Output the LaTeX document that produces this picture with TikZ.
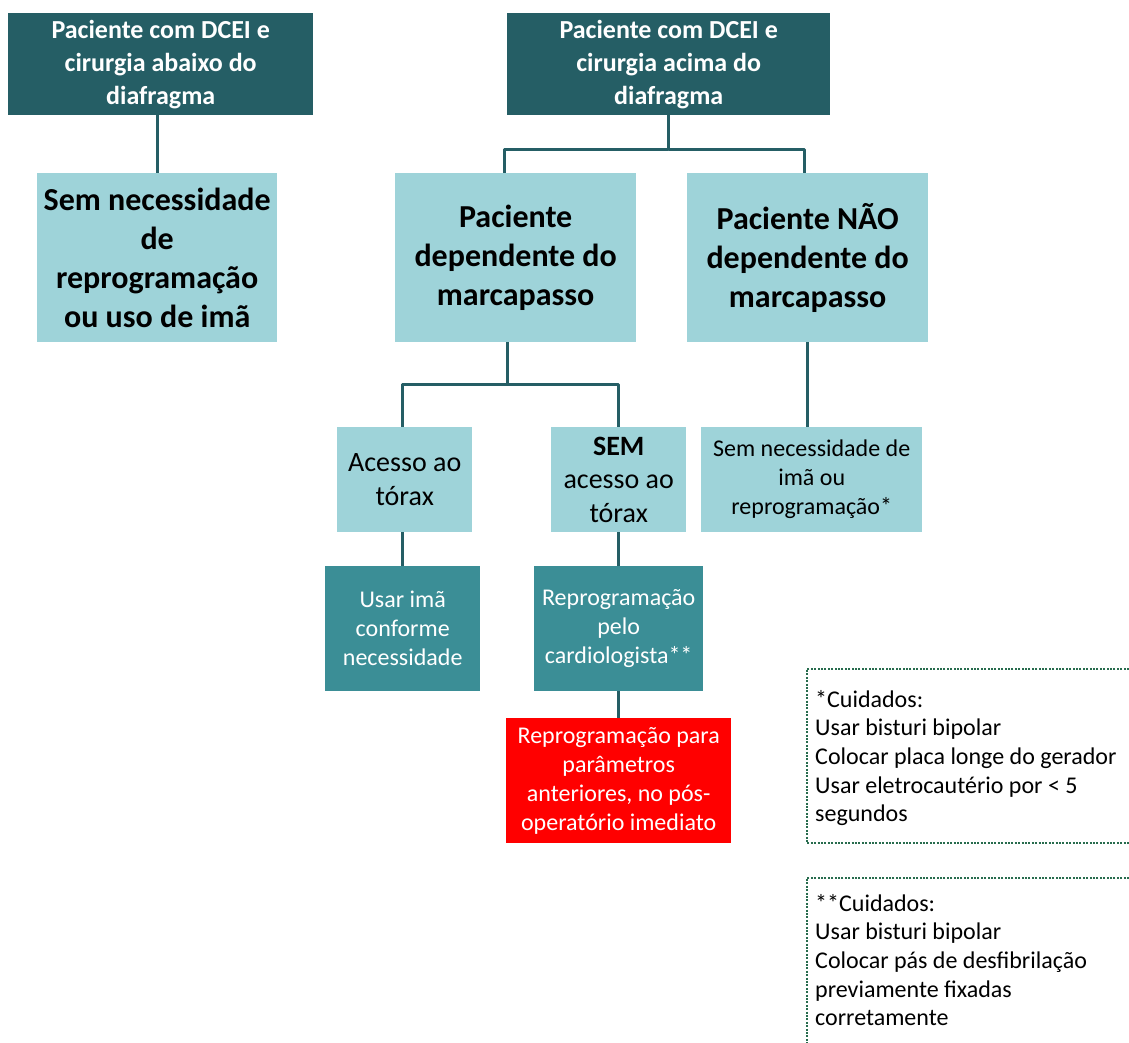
\documentclass[tikz,border=0pt]{standalone}
\usepackage{fontspec}
\setmainfont{Carlito}
\usetikzlibrary{calc}

\definecolor{tealdark}{RGB}{37,94,101}
\definecolor{teallight}{RGB}{158,211,217}
\definecolor{tealmid}{RGB}{59,142,150}
\definecolor{alertred}{RGB}{255,0,0}
\definecolor{notegreen}{RGB}{40,108,78}

\tikzset{
  box/.style={anchor=north west, inner sep=0pt, align=center, rectangle},
  topbox/.style={box, fill=tealdark, text=white,
    font=\fontsize{26}{33}\selectfont\bfseries},
  bigbox/.style={box, fill=teallight, text=black,
    font=\fontsize{32}{39}\selectfont\bfseries},
  midbox/.style={box, fill=teallight, text=black,
    font=\fontsize{28}{33.5}\selectfont},
  smallbox/.style={box, fill=teallight, text=black,
    font=\fontsize{24}{29}\selectfont},
  actbox/.style={box, fill=tealmid, text=white,
    font=\fontsize{24}{29}\selectfont},
  alertbox/.style={box, fill=alertred, text=white,
    font=\fontsize{24}{29}\selectfont},
  notetext/.style={anchor=north west, inner sep=0pt, align=left,
    font=\fontsize{24}{28.6}\selectfont},
  link/.style={draw=tealdark, line width=3pt, line join=round},
  notebox/.style={draw=notegreen, line width=2.2pt, dash pattern=on 2pt off 1.4pt},
}

\begin{document}
\begin{tikzpicture}[x=1pt, y=-1pt]
\useasboundingbox (0,0) rectangle (1129,1043);

% top row: the two starting situations
\node[topbox, minimum width=305pt, minimum height=102pt] (A) at (8,13)
  {Paciente com DCEI e\\cirurgia abaixo do\\diafragma};
\node[topbox, minimum width=323pt, minimum height=102pt] (B) at (507,13)
  {Paciente com DCEI e\\cirurgia acima do\\diafragma};

% second row
\node[bigbox, minimum width=240pt, minimum height=169pt] (C) at (37,173)
  {Sem necessidade\\de\\reprogramação\\ou uso de imã};
\node[bigbox, minimum width=241pt, minimum height=169pt] (D) at (395,173)
  {Paciente\\dependente do\\marcapasso};
\node[bigbox, minimum width=241pt, minimum height=169pt] (E) at (687,173)
  {Paciente NÃO\\dependente do\\marcapasso};

% third row
\node[midbox, minimum width=135pt, minimum height=105pt] (F) at (337,427)
  {Acesso ao\\tórax};
\node[midbox, minimum width=135pt, minimum height=105pt] (G) at (551,427)
  {\textbf{SEM}\\acesso ao\\tórax};
\node[smallbox, minimum width=221pt, minimum height=105pt] (H) at (701,427)
  {Sem necessidade de\\imã ou\\reprogramação*};

% actions
\node[actbox, minimum width=155pt, minimum height=125pt] (I) at (325,566)
  {Usar imã\\conforme\\necessidade};
\node[actbox, minimum width=169pt, minimum height=125pt] (J) at (534,566)
  {Reprogramação\\pelo\\cardiologista**};
\node[alertbox, minimum width=225pt, minimum height=125pt] (K) at (506,718)
  {Reprogramação para\\parâmetros\\anteriores, no pós-\\operatório imediato};

% connectors
\draw[link] (C.north |- A.south) -- (C.north);
\draw[link] (B.south) -- ++(0,34)
  -| ($(D.north west)!0.452!(D.north east)$);
\draw[link] (B.south) ++(0,34)
  -| ($(E.north west)!0.485!(E.north east)$);
\draw[link] ($(D.south west)!0.465!(D.south east)$) -- ++(0,42)
  -| (I.north |- F.north);
\draw[link] ($(D.south west)!0.465!(D.south east)$) ++(0,42)
  -| ($(G.north west)!0.50!(G.north east)$);
\draw[link] (E.south) -- (E.south |- H.north);
\draw[link] (I.north |- F.south) -- (I.north);
\draw[link] (G.south) -- (J.north);
\draw[link] (J.south) -- (K.north);

% precautions notes
\node[notetext] (N1) at (815,690)
  {*Cuidados:\\Usar bisturi bipolar\\Colocar placa longe do gerador\\Usar eletrocautério por < 5\\segundos};
\node[notetext] (N2) at (815,894)
  {**Cuidados:\\Usar bisturi bipolar\\Colocar pás de desfibrilação\\previamente fixadas\\corretamente};
\draw[notebox] (1129,669) -- (807,669) -- (807,843) -- (1129,843);
\draw[notebox] (1129,878) -- (807,878) -- (807,1043);
\end{tikzpicture}
\end{document}
